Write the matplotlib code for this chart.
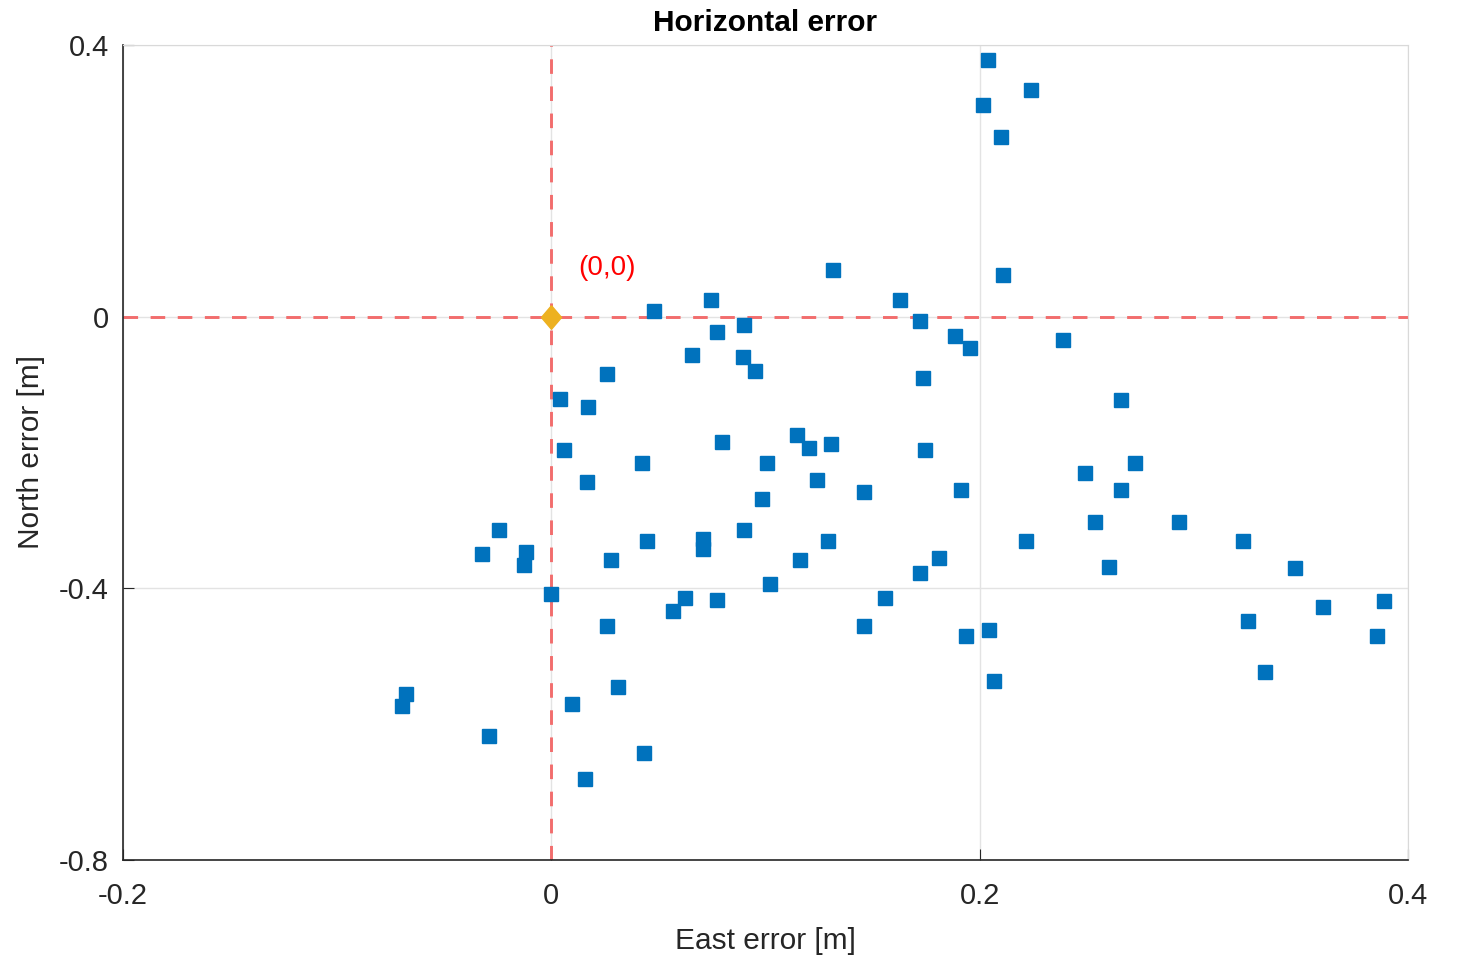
import matplotlib
matplotlib.use("Agg")
import matplotlib.pyplot as plt

plt.rcParams['font.family'] = ['Liberation Sans', 'DejaVu Sans']

east = [0.204, 0.2017, 0.224, 0.210, 0.1317, 0.211, 0.048, 0.0747, 0.163, 0.0775,
        0.090, 0.172, 0.0658, 0.0896, 0.0953, 0.1886, 0.1956, 0.239, 0.026, 0.0042,
        0.0173, 0.1737, 0.266, 0.006, 0.0798, 0.1149, 0.1205, 0.1307, 0.1746, 0.0425,
        0.1009, 0.2493, 0.2727, 0.0168, 0.1242, 0.1461, 0.0985, 0.1914, 0.266, 0.254,
        0.2932, -0.0243, 0.0901, 0.0448, 0.071, 0.071, 0.1293, 0.2218, 0.323, -0.0322,
        -0.0117, -0.0126, 0.028, 0.1163, 0.1812, 0.2605, 0.3474, 0.1723, 0.1023, 0.0,
        0.0626, 0.057, 0.0775, 0.156, 0.3605, 0.389, 0.026, 0.1461, 0.3254, 0.1938,
        0.2045, 0.3857, 0.333, 0.2068, -0.0677, -0.0696, 0.0313, 0.0098, -0.029, 0.0434,
        0.0159]
north = [0.378, 0.312, 0.334, 0.264, 0.069, 0.062, 0.009, 0.024, 0.025, -0.022,
         -0.012, -0.007, -0.056, -0.059, -0.080, -0.028, -0.046, -0.035, -0.084, -0.121,
         -0.133, -0.091, -0.122, -0.197, -0.184, -0.174, -0.194, -0.188, -0.196, -0.215,
         -0.216, -0.230, -0.216, -0.243, -0.240, -0.258, -0.269, -0.255, -0.255, -0.303,
         -0.302, -0.314, -0.314, -0.330, -0.327, -0.342, -0.330, -0.331, -0.330, -0.349,
         -0.346, -0.365, -0.359, -0.359, -0.355, -0.368, -0.370, -0.378, -0.393, -0.409,
         -0.414, -0.434, -0.417, -0.414, -0.427, -0.418, -0.455, -0.455, -0.448, -0.470,
         -0.462, -0.470, -0.523, -0.537, -0.555, -0.573, -0.546, -0.570, -0.618, -0.643,
         -0.680]

xticks = [-0.2, 0, 0.2, 0.4]
yticks = [-0.8, -0.4, 0, 0.4]
xticklabels = ['-0.2', '0', '0.2', '0.4']
yticklabels = ['-0.8', '-0.4', '0', '0.4']

fig = plt.figure(figsize=(14.58, 9.57), dpi=100)
ax = fig.add_axes([123/1458, 1-860/957, (1408-123)/1458, (860-45)/957])

ax.set_xlim(-0.2, 0.4)
ax.set_ylim(-0.8, 0.4)
ax.set_xticks(xticks)
ax.set_xticklabels(xticklabels)
ax.set_yticks(yticks)
ax.set_yticklabels(yticklabels)
ax.grid(True, color='#e3e3e3', linewidth=1.0)
ax.set_axisbelow(True)

ax.axhline(0, color='#F26D6D', linestyle=(0, (5.0, 4.3)), linewidth=2.1, zorder=2)
ax.axvline(0, color='#F26D6D', linestyle=(0, (5.0, 4.3)), linewidth=2.1, zorder=2)

ax.plot(east, north, linestyle='none', marker='s', markersize=10.5,
        color='#0072BD', zorder=3)
diamond = [(0, 1), (0.85, 0), (0, -1), (-0.85, 0), (0, 1)]
ax.plot([0], [0], linestyle='none', marker=diamond, markersize=17,
        color='#EDB120', zorder=4)
ax.text(0.0125, 0.072, '(0,0)', color='red', fontsize=20, va='center', ha='left')

for side in ['top', 'right']:
    ax.spines[side].set_color('#d9d9d9')
for side in ['left', 'bottom']:
    ax.spines[side].set_color('#262626')
    ax.spines[side].set_linewidth(1.2)

ax.tick_params(direction='in', length=8, labelsize=21, colors='#262626')
ax.tick_params(axis='x', pad=16)
ax.tick_params(axis='y', pad=10)
ax.set_xlabel('East error [m]', fontsize=21.5, color='#262626', labelpad=12)
ax.set_ylabel('North error [m]', fontsize=21.5, color='#262626', labelpad=10)
ax.set_title('Horizontal error', fontsize=21.5, fontweight='bold', pad=10)

fig.savefig('out.png', dpi=100)
